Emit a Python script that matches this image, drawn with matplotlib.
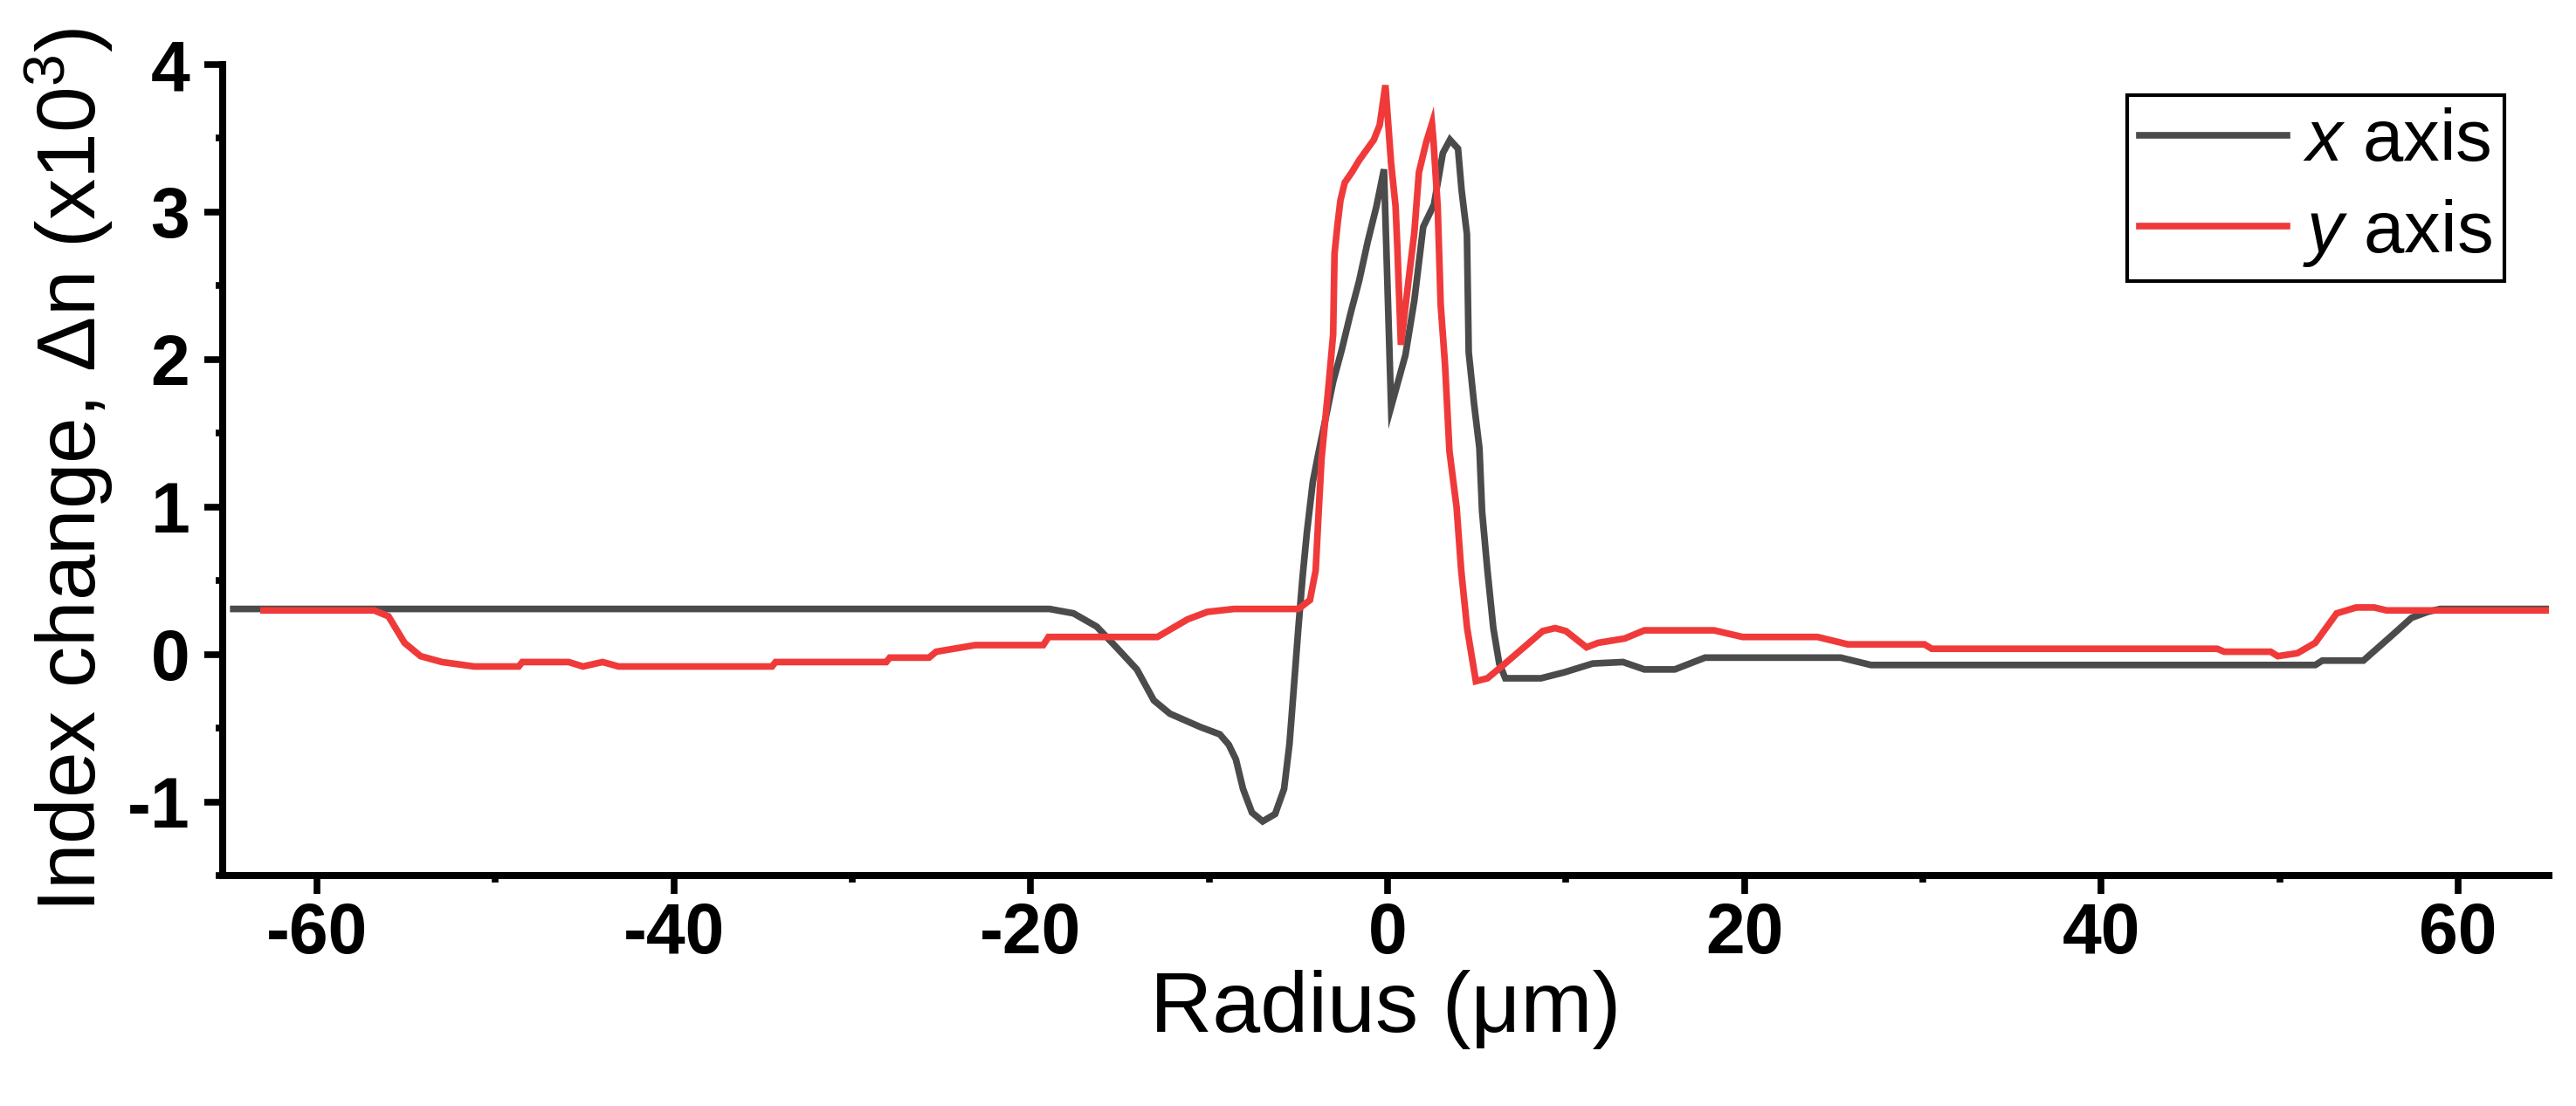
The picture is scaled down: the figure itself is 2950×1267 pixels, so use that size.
import matplotlib
matplotlib.use('Agg')
import matplotlib.pyplot as plt
from matplotlib.ticker import MultipleLocator

plt.rcParams['font.family'] = ['Liberation Sans', 'DejaVu Sans']
plt.rcParams['mathtext.fontset'] = 'custom'
plt.rcParams['mathtext.rm'] = 'Liberation Sans'
plt.rcParams['mathtext.it'] = 'Liberation Sans:italic'
plt.rcParams['mathtext.bf'] = 'Liberation Sans:bold'
plt.rcParams['axes.unicode_minus'] = False

# ---- data (radius in um, index change x1e-3) ----
x_axis_r = [-64.7, -18.95, -17.6, -16.3, -15.2, -14.05, -13.1, -12.2, -10.5, -9.4, -8.9, -8.5,
            -8.1, -7.6, -7.0, -6.3, -5.8, -5.5, -5.25, -5.0, -4.76, -4.52, -4.19, -3.9,
            -3.05, -2.56, -2.08, -1.6, -1.11, -0.62, -0.2, 0.2, 1.0, 1.5, 2.0, 2.6, 3.1,
            3.5, 3.95, 4.15, 4.45, 4.55, 4.85, 5.15, 5.3, 5.6, 5.93, 6.26, 6.6, 8.6, 9.9,
            11.5, 13.2, 14.4, 16.1, 17.8, 25.4, 27.1, 52.0, 52.4, 54.7, 56.2, 57.4, 58.3,
            59.0, 65.0]
x_axis_dn = [0.31, 0.31, 0.28, 0.19, 0.05, -0.10, -0.31, -0.40, -0.49, -0.54, -0.61, -0.71,
             -0.91, -1.07, -1.13, -1.08, -0.91, -0.61, -0.22, 0.18, 0.53, 0.83, 1.17, 1.35,
             1.85, 2.07, 2.31, 2.53, 2.80, 3.04, 3.29, 1.68, 2.03, 2.40, 2.90, 3.05, 3.40,
             3.49, 3.43, 3.15, 2.85, 2.05, 1.70, 1.40, 0.97, 0.57, 0.18, -0.06, -0.16, -0.16,
             -0.12, -0.06, -0.05, -0.10, -0.10, -0.02, -0.02, -0.07, -0.07, -0.04, -0.04,
             0.12, 0.25, 0.29, 0.31, 0.31]

y_axis_r = [-63.0, -56.8, -56.0, -55.1, -54.2, -53.0, -51.2, -48.7, -48.5, -45.9, -45.1, -44.0,
            -43.1, -34.5, -34.3, -28.1, -27.9, -25.7, -25.3, -23.1, -19.3, -19.0, -12.9,
            -11.2, -10.1, -8.6, -5.0, -4.35, -4.03, -3.86, -3.7, -3.3, -3.05, -2.97, -2.8,
            -2.64, -2.4, -2.0, -1.6, -0.77, -0.44, -0.12, 0.2, 0.45, 0.55, 0.75, 1.2, 1.5,
            1.76, 2.16, 2.49, 2.57, 2.81, 2.98, 3.22, 3.47, 3.87, 4.13, 4.46, 4.95, 5.6,
            6.59, 8.7, 9.4, 10.0, 11.15, 11.8, 13.3, 14.4, 18.3, 19.9, 24.1, 25.8, 30.1,
            30.5, 46.5, 46.9, 49.5, 49.9, 51.0, 52.0, 53.2, 54.3, 55.3, 56.0, 65.0]
y_axis_dn = [0.30, 0.30, 0.26, 0.08, -0.01, -0.05, -0.08, -0.08, -0.05, -0.05, -0.08, -0.05,
             -0.08, -0.08, -0.05, -0.05, -0.02, -0.02, 0.02, 0.065, 0.065, 0.12, 0.12,
             0.24, 0.29, 0.31, 0.31, 0.37, 0.57, 0.97, 1.33, 1.83, 2.17, 2.72, 2.92,
             3.08, 3.20, 3.27, 3.35, 3.49, 3.59, 3.86, 3.33, 3.04, 2.76, 2.10, 2.56, 2.86,
             3.27, 3.47, 3.60, 3.49, 3.04, 2.37, 1.97, 1.38, 1.00, 0.57, 0.18, -0.18, -0.16,
             -0.06, 0.16, 0.18, 0.16, 0.05, 0.08, 0.11, 0.165, 0.165, 0.12, 0.12, 0.07, 0.07,
             0.04, 0.04, 0.02, 0.02, -0.01, 0.01, 0.08, 0.28, 0.32, 0.32, 0.30, 0.30]

series_labels = ['$\\mathit{x}$ axis', '$\\mathit{y}$ axis']
series_colors = ['#4b4b4b', '#f03a3a']
x_ticks = [-60, -40, -20, 0, 20, 40, 60]
y_ticks = [-1, 0, 1, 2, 3, 4]

fig = plt.figure(figsize=(29.5, 12.67), dpi=100)
ax = fig.add_axes([0.0864, 0.208, 0.9031, 0.7336])

ax.plot(x_axis_r, x_axis_dn, color=series_colors[0], lw=5.5, label=series_labels[0],
        solid_joinstyle='miter')
ax.plot(y_axis_r, y_axis_dn, color=series_colors[1], lw=5.5, label=series_labels[1],
        solid_joinstyle='miter')

ax.set_xlim(-65.3, 65.1)
ax.set_ylim(-1.5, 4)
ax.set_xticks(x_ticks)
ax.set_yticks(y_ticks)
ax.set_xticklabels([str(v) for v in x_ticks])
ax.set_yticklabels([str(v) for v in y_ticks])
ax.xaxis.set_minor_locator(MultipleLocator(10))
ax.yaxis.set_minor_locator(MultipleLocator(0.5))

for s in ['top', 'right']:
    ax.spines[s].set_visible(False)
for s in ['left', 'bottom']:
    ax.spines[s].set_linewidth(5.8)

ax.tick_params(which='major', direction='out', length=15, width=5.5, labelsize=58)
ax.tick_params(axis='x', which='major', pad=6)
ax.tick_params(axis='y', which='major', pad=12)
ax.tick_params(which='minor', direction='out', length=6, width=5.5)
for lbl in ax.get_xticklabels() + ax.get_yticklabels():
    lbl.set_fontweight('bold')

ax.set_xlabel('Radius (μm)', fontsize=71, labelpad=2)
ax.set_ylabel('Index change, Δn (x10$^{\\mathrm{3}}$)', fontsize=68, labelpad=10)

leg = ax.legend(loc='upper right', bbox_to_anchor=(0.981, 0.962), frameon=True,
                fancybox=False, edgecolor='black', framealpha=1, fontsize=60,
                handlelength=2.03, handletextpad=0.22, borderpad=0.17,
                labelspacing=0.29, borderaxespad=0)
leg.get_frame().set_linewidth(3)

fig.savefig('out.png', dpi=100)
